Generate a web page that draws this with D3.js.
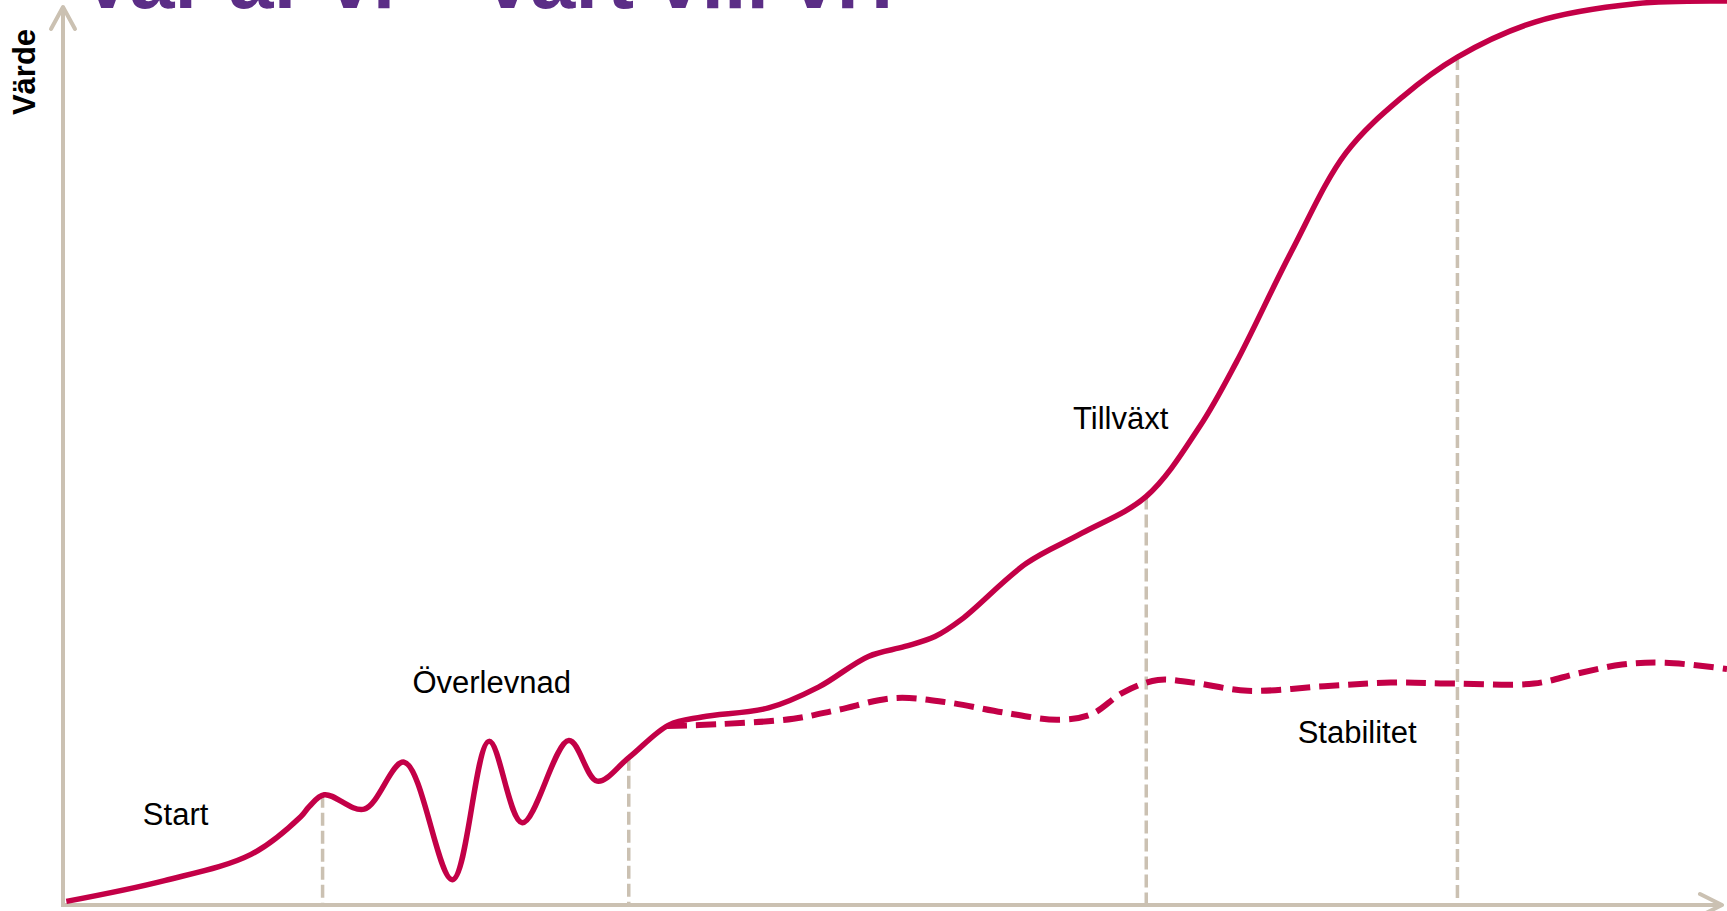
<!DOCTYPE html>
<html>
<head>
<meta charset="utf-8">
<script src="https://cdn.jsdelivr.net/npm/d3@7"></script>
<style>
  body { margin: 0; background: #fff; }
  svg { display: block; }
  text { font-family: "Liberation Sans", Arial, sans-serif; }
</style>
</head>
<body>
<div id="chart"></div>
<script>
const width = 1727;
const height = 911;
const margin = { top: 1, right: 0, bottom: 6, left: 63 };

// main curve (time 0..100, value 0..100)
const growthX = [0.2, 6.1, 11.3, 14.3, 14.8, 15.7, 18.1, 20.5, 23.4, 25.6, 27.6, 30.4, 32.1, 34.0,
                 36.4, 38.4, 42.4, 45.4, 48.4, 50.6, 52.4, 54.0, 57.9, 61.2, 65.1, 68.3,
                 70.5, 73.8, 77.1, 80.5, 83.8, 88.5, 94.5, 100];
const growthY = [0.4, 2.7, 5.6, 9.8, 10.9, 12.2, 10.6, 15.8, 2.8, 18.1, 9.1, 18.2, 13.7, 16.3,
                 19.9, 20.8, 21.8, 24.1, 27.5, 28.6, 29.7, 31.6, 37.8, 41.1, 45.2, 52.9,
                 60.0, 72.2, 83.2, 89.4, 93.8, 97.7, 99.7, 100];

// dashed curve (the "stable" alternative)
const stableX = [36.3, 39.4, 43.9, 46.6, 50.0, 53.2, 56.5, 59.8, 61.8, 63.7, 65.8, 67.9, 71.2,
                 75.8, 79.8, 83.7, 88.4, 91.0, 93.7, 96.3, 100];
const stableY = [19.8, 20.0, 20.6, 21.6, 22.9, 22.4, 21.3, 20.5, 21.1, 23.5, 24.9, 24.6, 23.7,
                 24.2, 24.6, 24.5, 24.5, 25.6, 26.6, 26.8, 26.1];

// phase boundaries and where they meet the curve
const phaseX = [15.6, 34.0, 65.1, 83.8];
const phaseTop = [12.2, 16.3, 45.2, 93.8];

const phaseLabels = ["Start", "Överlevnad", "Tillväxt", "Stabilitet"];
const axisTitle = "Värde";
const title = "Var är vi – vart vill vi?";

// label anchor points in data space
const labelPos = [[4.8, 8.9], [21.0, 23.5], [60.7, 52.7], [74.2, 17.9]];

const red = "#c30047";
const tan = "#cbc1b2";

const svg = d3.select("#chart").append("svg")
  .attr("width", width)
  .attr("height", height);

const x = d3.scaleLinear().domain([0, 100]).range([margin.left, width - margin.right]);
const y = d3.scaleLinear().domain([0, 100]).range([height - margin.bottom, margin.top]);

// title, mostly cut off at the top edge (as in the slide)
svg.append("text")
  .attr("x", 80)
  .attr("y", 8)
  .attr("font-size", 81)
  .attr("font-weight", "bold")
  .attr("fill", "#5b2d86")
  .text(title);

// phase separators
svg.append("g").selectAll("line")
  .data(phaseX)
  .enter()
  .append("line")
  .attr("x1", d => x(d))
  .attr("x2", d => x(d))
  .attr("y1", (d, i) => y(phaseTop[i]))
  .attr("y2", y(0))
  .attr("stroke", tan)
  .attr("stroke-width", 3.5)
  .attr("stroke-dasharray", "13,5");

// axes
const x0 = x(0), y0 = y(0);
const yTip = 7, xTip = width - 5;
svg.append("line")
  .attr("x1", x0).attr("y1", y0 + 2)
  .attr("x2", x0).attr("y2", yTip + 1)
  .attr("stroke", tan).attr("stroke-width", 4);
svg.append("line")
  .attr("x1", x0 - 2).attr("y1", y0)
  .attr("x2", xTip - 1).attr("y2", y0)
  .attr("stroke", tan).attr("stroke-width", 4);

svg.append("path")
  .attr("d", `M${x0 - 12},${yTip + 22}L${x0},${yTip}L${x0 + 12},${yTip + 22}`)
  .attr("fill", "none").attr("stroke", tan).attr("stroke-width", 4)
  .attr("stroke-linecap", "round").attr("stroke-linejoin", "round");
svg.append("path")
  .attr("d", `M${xTip - 22},${y0 - 11}L${xTip},${y0}L${xTip - 22},${y0 + 11}`)
  .attr("fill", "none").attr("stroke", tan).attr("stroke-width", 4)
  .attr("stroke-linecap", "round").attr("stroke-linejoin", "round");

svg.append("text")
  .attr("transform", `translate(35,72) rotate(-90)`)
  .attr("text-anchor", "middle")
  .attr("font-size", 31)
  .attr("font-weight", "bold")
  .attr("fill", "#000")
  .text(axisTitle);

// curves
const line = d3.line()
  .x(d => x(d[0]))
  .y(d => y(d[1]))
  .curve(d3.curveCatmullRom.alpha(0.5));

svg.append("path")
  .datum(stableX.map((v, i) => [v, stableY[i]]))
  .attr("d", line)
  .attr("fill", "none")
  .attr("stroke", red)
  .attr("stroke-width", 6)
  .attr("stroke-dasharray", "20,9");

svg.append("path")
  .datum(growthX.map((v, i) => [v, growthY[i]]))
  .attr("d", line)
  .attr("fill", "none")
  .attr("stroke", red)
  .attr("stroke-width", 5.5)
  .attr("stroke-linejoin", "round");

// phase labels
svg.append("g").selectAll("text")
  .data(phaseLabels)
  .enter()
  .append("text")
  .attr("x", (d, i) => x(labelPos[i][0]))
  .attr("y", (d, i) => y(labelPos[i][1]))
  .attr("font-size", 31)
  .attr("fill", "#000")
  .text(d => d);
</script>
</body>
</html>
